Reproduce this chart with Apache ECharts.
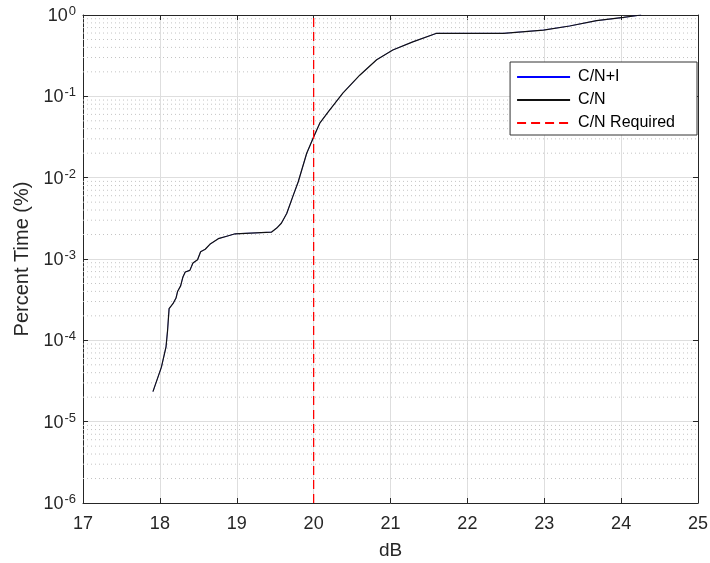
<!DOCTYPE html>
<html>
<head>
<meta charset="utf-8">
<script src="https://cdn.jsdelivr.net/npm/echarts@6/dist/echarts.min.js"></script>
<style>
  html, body { margin: 0; padding: 0; background: #fff; }
  #main { width: 710px; height: 563px; }
</style>
</head>
<body>
<div id="main"></div>
<script>
// C/N curve (dB, log10 of percent time)
var cnDb = [17.91, 18.02, 18.08, 18.10, 18.12, 18.17, 18.21, 18.23, 18.27, 18.30, 18.33, 18.39, 18.43, 18.49, 18.53, 18.59, 18.65, 18.76, 18.87, 18.98, 19.45, 19.52, 19.58, 19.65, 19.73, 19.80, 19.91, 20.00, 20.08, 20.19, 20.38, 20.60, 20.82, 21.03, 21.29, 21.60, 22.47, 22.99, 23.33, 23.68, 24.03, 24.26];
var cnLog = [-4.63, -4.33, -4.08, -3.88, -3.61, -3.55, -3.48, -3.40, -3.33, -3.22, -3.16, -3.14, -3.05, -3.01, -2.91, -2.88, -2.82, -2.75, -2.72, -2.69, -2.67, -2.62, -2.56, -2.44, -2.23, -2.05, -1.70, -1.50, -1.33, -1.19, -0.96, -0.74, -0.55, -0.43, -0.33, -0.225, -0.225, -0.185, -0.135, -0.07, -0.03, 0];
var requiredDb = 20;
var xMin = 17, xMax = 25;
var yMin = 1e-6, yMax = 1;

var cnData = [];
for (var i = 0; i < cnDb.length; i++) {
    cnData.push([cnDb[i], Math.pow(10, cnLog[i])]);
}
var reqData = [[requiredDb, yMin], [requiredDb, yMax]];

// minor grid lines at 2..9 x 10^k, drawn as broken line segments
var minorGrid = [];
for (var k = -6; k < 0; k++) {
    for (var m = 2; m <= 9; m++) {
        var v = m * Math.pow(10, k);
        minorGrid.push([xMin, v], [xMax, v], null);
    }
}

var font = 'Liberation Sans, Arial, sans-serif';
var axisColor = '#262626';

function powLabel(v) {
    var e = Math.round(Math.log10(v));
    return '{b|10}{s|' + e + '}';
}

var myChart = echarts.init(document.getElementById('main'));

var option = {
    animation: false,
    backgroundColor: '#fff',
    grid: { left: 83, right: 12, top: 15, bottom: 60, outerBoundsMode: 'none', containLabel: false },
    legend: {
        right: 13,
        top: 62,
        orient: 'vertical',
        backgroundColor: '#fff',
        borderColor: '#333',
        borderWidth: 1,
        borderRadius: 0,
        padding: [7, 22, 4, 6],
        itemWidth: 53,
        itemHeight: 14,
        itemGap: 7,
        itemStyle: { opacity: 0 },
        textStyle: { fontFamily: font, fontSize: 16, color: '#000', padding: [0, 0, 0, 3] },
        data: ['C/N+I', 'C/N', 'C/N Required']
    },
    xAxis: [{
        type: 'value',
        min: xMin, max: xMax, interval: 1,
        name: 'dB',
        nameLocation: 'middle',
        nameGap: 38,
        nameTextStyle: { fontFamily: font, fontSize: 19, color: axisColor },
        axisLine: { lineStyle: { color: axisColor } },
        axisTick: { inside: true, length: 5, lineStyle: { color: axisColor } },
        axisLabel: { fontFamily: font, fontSize: 18, color: axisColor, margin: 12 },
        splitLine: { show: true, lineStyle: { color: '#dedede' } }
    }, {
        type: 'value',
        position: 'top',
        min: xMin, max: xMax, interval: 1,
        axisLine: { show: true, lineStyle: { color: axisColor } },
        axisTick: { inside: true, length: 5, lineStyle: { color: axisColor } },
        axisLabel: { show: false },
        splitLine: { show: false }
    }],
    yAxis: [{
        type: 'log',
        logBase: 10,
        min: yMin, max: yMax,
        name: 'Percent Time (%)',
        nameLocation: 'middle',
        nameGap: 47,
        nameTextStyle: { fontFamily: font, fontSize: 20, color: axisColor },
        axisLine: { show: true, lineStyle: { color: axisColor } },
        axisTick: { show: true, inside: true, length: 5, lineStyle: { color: axisColor } },
        axisLabel: {
            formatter: powLabel,
            margin: 7,
            rich: {
                b: { fontFamily: font, fontSize: 18, color: axisColor, lineHeight: 20, verticalAlign: 'bottom', padding: [8, 0, 0, 0] },
                s: { fontFamily: font, fontSize: 13, color: axisColor, lineHeight: 14, verticalAlign: 'top', padding: [0, 0, 10, 1] }
            }
        },
        splitLine: { show: true, lineStyle: { color: '#dedede' } }
    }, {
        type: 'log',
        logBase: 10,
        position: 'right',
        min: yMin, max: yMax,
        axisLine: { show: true, lineStyle: { color: axisColor } },
        axisTick: { show: true, inside: true, length: 5, lineStyle: { color: axisColor } },
        axisLabel: { show: false },
        splitLine: { show: false }
    }],
    series: [{
        name: 'minor grid',
        type: 'line',
        data: minorGrid,
        symbol: 'none',
        silent: true,
        connectNulls: false,
        lineStyle: { type: [1, 3], color: '#c4c4c4', width: 1 },
        z: 1
    }, {
        name: 'C/N+I',
        type: 'line',
        data: cnData,
        symbol: 'none',
        lineStyle: { color: '#0000ff', width: 0.5 },
        itemStyle: { color: '#0000ff' },
        z: 2
    }, {
        name: 'C/N',
        type: 'line',
        data: cnData,
        symbol: 'none',
        lineStyle: { color: '#111111', width: 1.2 },
        itemStyle: { color: '#111111' },
        z: 3
    }, {
        name: 'C/N Required',
        type: 'line',
        data: reqData,
        symbol: 'none',
        lineStyle: { color: '#ff0000', width: 1.3, type: [9, 5] },
        itemStyle: { color: '#ff0000' },
        z: 4
    }]
};

myChart.setOption(option);
</script>
</body>
</html>
